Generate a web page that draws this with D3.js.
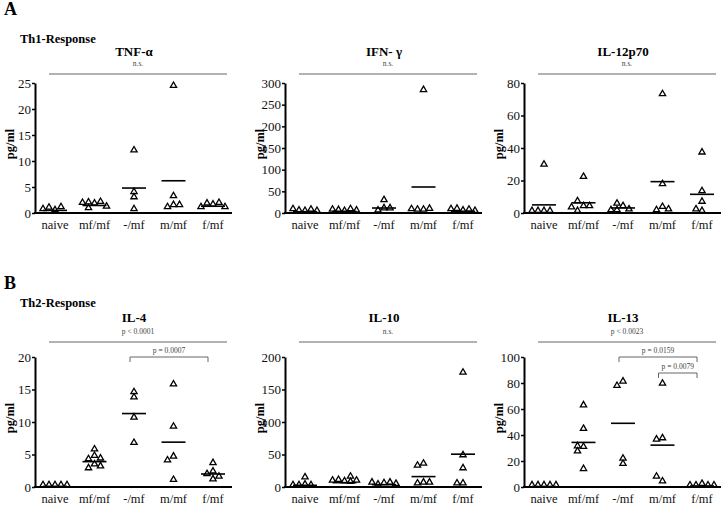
<!DOCTYPE html>
<html><head><meta charset="utf-8">
<script src="https://cdn.jsdelivr.net/npm/d3@7"></script>
<style>body{margin:0;background:#fff}</style>
</head><body>
<svg id="c" width="721" height="505"></svg>
<script>
const categories = ["naive","mf/mf","-/mf","m/mf","f/mf"];
const panelTitles = ["TNF-α","IFN- γ","IL-12p70","IL-4","IL-10","IL-13"];
const yMaxes = [25,300,80,20,200,100];
const yTickSteps = [5,50,20,5,50,20];
const sigLabels = ["n.s.","n.s.","n.s.","p < 0.0001","n.s.","p < 0.0023"];
const rowLabels = ["Th1-Response","Th2-Response"];
const sectionLabels = ["A","B"];

const tnfValues = [[0.3,0.8,0.9,0.5],[1.6,1.8,1.9,1.7,0.7,1.0],[11.8,3.8,2.8,0.5],[24.2,3.0,1.3,0.9,1.3],[1.4,1.6,1.7,0.9,0.9]];
const tnfMeans = [0.5,1.45,4.8,6.2,1.3];
const ifnValues = [[2,3,5,6,2],[2,4,6,5,3],[27,8,3,8],[281,5,5,7,6],[3,7,5,6,2]];
const ifnMeans = [3,4,11.5,60,4];
const il12Values = [[29,0.5,0.5,0.5,0.5],[3.5,21.5,6.5,0.5,3.5,2.7],[3.5,1,5,1.5,1],[72.4,17,3,1,1.5],[36.5,12.7,6.2,0.5,1.5]];
const il12Means = [5,6.3,3.1,19.3,11.5];
const il4Values = [[0.1,0.1,0.1,0.1,0.1],[4.6,5.6,4.1,3.3,2.7,3.0,4.2],[13.6,14.4,10.5,6.6],[15.6,9.1,4.5,3.9,0.9],[3.5,2.2,1.8,1.0,1.4]];
const il4Means = [0.1,3.9,11.3,6.9,2.0];
const il10Values = [[13,2,1,1,1],[7,9,14,8,6,8],[4,2,5,5,3],[34,31,5,3.6,5],[174,47,27,3.6,3.6]];
const il10Means = [2.6,6.7,3.6,16,50.5];
const il13Values = [[0.4,0.4,0.4,0.4,0.4],[61.9,43.8,29.9,26.5,30.4,12.9],[80.2,76.8,16.8,20.9],[78.6,36.6,35.6,3.4,7],[1.5,0.3,0.3,0.3,0.3]];
const il13Means = [0.4,34.3,49,32.2,0.8];

const il4Brackets = [["-/mf","f/mf","p = 0.0007"]];
const il13Brackets = [["-/mf","f/mf","p = 0.0159"],["m/mf","f/mf","p = 0.0079"]];

const valueSets = [tnfValues,ifnValues,il12Values,il4Values,il10Values,il13Values];
const meanSets = [tnfMeans,ifnMeans,il12Means,il4Means,il10Means,il13Means];
const bracketSets = [[],[],[],il4Brackets,[],il13Brackets];

const FONT = "Liberation Serif";
const svg = d3.select("#c");
const axisXs = [35,285,524];
const rowTops = [83,357];
const plotH = 130, plotW = 197;

function txt(sel){ return sel.append("text").style("font-family",FONT); }

rowTops.forEach((t,r)=>{
  txt(svg).attr("x",4).attr("y",t-68).attr("font-size",18).attr("font-weight","bold").text(sectionLabels[r]);
  txt(svg).attr("x",20).attr("y",t-40 + (r?-10:0)).attr("font-size",12.5).attr("font-weight","bold").text(rowLabels[r]);
});

const tri = d3.symbol().type(d3.symbolTriangle).size(17);

valueSets.forEach((vals,p)=>{
  const r = Math.floor(p/3), c = p%3;
  const ax = axisXs[c], top = rowTops[r], bot = top+plotH;
  const g = svg.append("g");
  const x = d3.scalePoint().domain(categories).range([ax+20, ax+178]);
  const y = d3.scaleLinear().domain([0,yMaxes[p]]).range([bot, top]);

  const ya = g.append("g").attr("transform",`translate(${ax},0)`)
    .call(d3.axisLeft(y).tickValues(d3.range(0,yMaxes[p]+1e-9,yTickSteps[p])).tickSize(3).tickSizeOuter(0).tickPadding(1));
  ya.select(".domain").attr("stroke","#000").attr("stroke-width",2);
  ya.selectAll(".tick line").attr("stroke","#000").attr("stroke-width",1.5);
  ya.selectAll(".tick text").attr("font-size",13).attr("fill","#111").style("font-family",FONT);
  g.append("line").attr("x1",ax-1).attr("x2",ax+plotW).attr("y1",bot).attr("y2",bot).attr("stroke","#000").attr("stroke-width",2);
  g.selectAll(".cat").data(categories).join("text").style("font-family",FONT).attr("x",d=>x(d)).attr("y",bot+16)
    .attr("text-anchor","middle").attr("font-size",12.5).attr("fill","#111").text(d=>d);
  txt(g).attr("transform",`translate(${ax-21},${(top+bot)/2-4}) rotate(-90)`).attr("text-anchor","middle")
    .attr("font-size",12.5).attr("font-weight","bold").text("pg/ml");
  const lineY = top-9-(r?6:0);
  const lx1 = ax+14, lx2 = ax+192;
  g.append("line").attr("x1",lx1).attr("x2",lx2).attr("y1",lineY).attr("y2",lineY).attr("stroke","#666").attr("stroke-width",1);
  txt(g).attr("x",(lx1+lx2)/2).attr("y",lineY-8).attr("text-anchor","middle").attr("font-size",7.5).attr("fill","#444").text(sigLabels[p]);
  txt(g).attr("x",(lx1+lx2)/2-4).attr("y",lineY-18-(r?2:0)).attr("text-anchor","middle").attr("font-size",13).attr("font-weight","bold").text(panelTitles[p]);
  bracketSets[p].forEach((b,i)=>{
    const by = top + i*16, bx1 = x(b[0])-4, bx2 = x(b[1])-5;
    g.append("path").attr("d",`M${bx1},${by+5}V${by}H${bx2}V${by+5}`).attr("fill","none").attr("stroke","#666").attr("stroke-width",1);
    txt(g).attr("x",(bx1+bx2)/2).attr("y",by-4).attr("text-anchor","middle").attr("font-size",7.5).attr("fill","#444").text(b[2]);
  });
  vals.forEach((arr,ci)=>{
    const cx = x(categories[ci]);
    const placed = [];
    arr.forEach(v=>{
      const py = y(v);
      const cands = [0,-6,6,-12,12,-18,18];
      let ox = 0;
      for (const o of cands){
        if (placed.every(q=>Math.abs(q[0]-o)>=5.5 || Math.abs(q[1]-py)>=5)){ ox=o; break; }
      }
      placed.push([ox,py]);
      g.append("path").attr("d",tri).attr("transform",`translate(${cx+ox},${py-1.5})`)
        .attr("fill","none").attr("stroke","#000").attr("stroke-width",1.3);
    });
    const m = meanSets[p][ci];
    g.append("line").attr("x1",cx-12).attr("x2",cx+12).attr("y1",y(m)).attr("y2",y(m)).attr("stroke","#000").attr("stroke-width",1.6);
  });
});
</script>
</body></html>
